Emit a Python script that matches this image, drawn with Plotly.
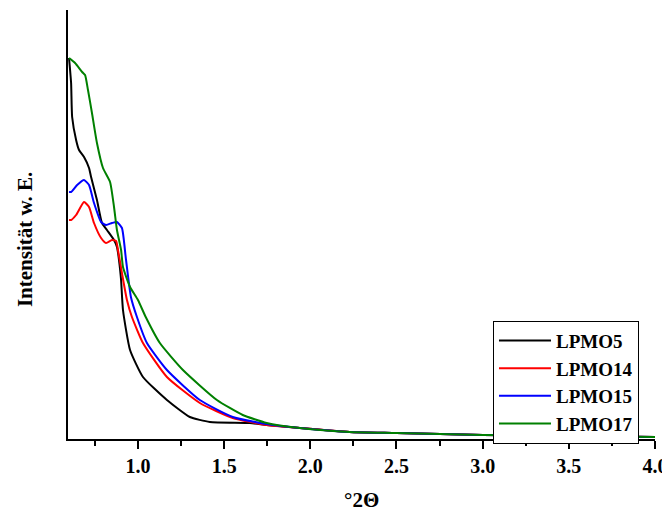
import plotly.graph_objects as go

# Data (x in °2Θ, intensity in arbitrary units)
x_lpmo5 = [0.600, 0.612, 0.618, 0.641, 0.658, 0.687, 0.716, 0.728, 0.762, 0.791, 0.820, 0.861, 0.878,
           0.890, 0.902, 0.913, 0.954, 1.029, 1.168, 1.301, 1.417, 1.649, 1.747, 1.939, 2.228, 2.5, 3.0, 3.5, 4.0]
y_lpmo5 = [381, 356, 322, 299, 289, 282, 271, 262, 239, 216, 209, 199, 192,
           179, 159, 129, 89, 62, 39, 22, 17, 16, 14, 11, 7, 6, 4, 3, 2]

x_lpmo14 = [0.600, 0.612, 0.641, 0.687, 0.716, 0.745, 0.786, 0.815, 0.849, 0.873, 0.885, 0.907,
            0.936, 0.965, 1.029, 1.168, 1.359, 1.550, 1.747, 1.939, 2.228, 2.5, 3.0, 3.5, 4.0]
y_lpmo14 = [219, 219, 224, 237, 232, 216, 201, 196, 199, 198, 188, 166,
            139, 122, 96, 62, 36, 21, 14, 11, 7, 6, 4, 3, 2]

x_lpmo15 = [0.600, 0.612, 0.647, 0.687, 0.716, 0.745, 0.786, 0.815, 0.849, 0.878, 0.907, 0.930,
            0.959, 0.994, 1.052, 1.168, 1.359, 1.550, 1.782, 1.939, 2.228, 2.5, 3.0, 3.5, 4.0]
y_lpmo15 = [247, 247, 254, 259, 254, 236, 217, 214, 216, 217, 211, 180,
            142, 122, 96, 69, 39, 22, 14, 11, 7, 6, 4, 3, 2]

x_lpmo17 = [0.600, 0.635, 0.676, 0.693, 0.710, 0.733, 0.762, 0.797, 0.838, 0.861, 0.878, 0.902,
            0.913, 0.954, 1.000, 1.045, 1.127, 1.261, 1.458, 1.608, 1.747, 1.939, 2.228, 2.5, 3.0, 3.5, 4.0]
y_lpmo17 = [381, 376, 367, 364, 349, 326, 296, 271, 257, 232, 209, 189,
            172, 152, 139, 122, 96, 69, 39, 24, 16, 11, 7, 6, 4, 3, 2]

series_names = ["LPMO5", "LPMO14", "LPMO15", "LPMO17"]
series_colors = ["#000000", "#ff0000", "#0000ff", "#008000"]
tick_vals = [1.0, 1.5, 2.0, 2.5, 3.0, 3.5, 4.0]
tick_text = ["1.0", "1.5", "2.0", "2.5", "3.0", "3.5", "4.0"]

serif = "Liberation Serif, Times New Roman, serif"

fig = go.Figure()
for xs, ys, name, col in zip([x_lpmo5, x_lpmo14, x_lpmo15, x_lpmo17],
                             [y_lpmo5, y_lpmo14, y_lpmo15, y_lpmo17],
                             series_names, series_colors):
    fig.add_trace(go.Scatter(x=xs, y=ys, mode="lines", name="<b>" + name + "</b>",
                             line=dict(color=col, width=2, shape="spline", smoothing=0.5)))

fig.update_layout(
    width=662, height=506,
    margin=dict(l=60, r=15, t=2, b=75, autoexpand=False),
    plot_bgcolor="white", paper_bgcolor="white",
    showlegend=True,
    legend=dict(x=0.724, y=0.276, xanchor="left", yanchor="top",
                bordercolor="black", borderwidth=1, bgcolor="white",
                font=dict(family=serif, size=19, color="black"),
                tracegroupgap=0, itemwidth=52),
    xaxis=dict(range=[0.594, 4.0], tickvals=tick_vals, ticktext=["<b>" + t + "</b>" for t in tick_text],
               ticks="outside", ticklen=8, tickwidth=1.5, tickcolor="black", automargin=False,
               minor=dict(dtick=0.25, tick0=0.0, ticks="outside", ticklen=5, tickwidth=1.5, tickcolor="black"),
               showline=True, linecolor="black", linewidth=2, showgrid=False, zeroline=False,
               tickfont=dict(family=serif, size=20, color="black")),
    yaxis=dict(range=[0, 429], showticklabels=False, ticks="", automargin=False,
               showline=True, linecolor="black", linewidth=2, showgrid=False, zeroline=False),
    annotations=[
        dict(text="<b>°2Θ</b>", xref="paper", yref="paper", x=0.5, y=-0.142, yanchor="middle",
             showarrow=False, font=dict(family=serif, size=21, color="black")),
        dict(text="<b>Intensität w. E.</b>", xref="paper", yref="paper", x=-0.073, y=0.464,
             textangle=-90, xanchor="center", yanchor="middle",
             showarrow=False, font=dict(family=serif, size=21, color="black")),
    ],
)

fig.write_html("out.html")
